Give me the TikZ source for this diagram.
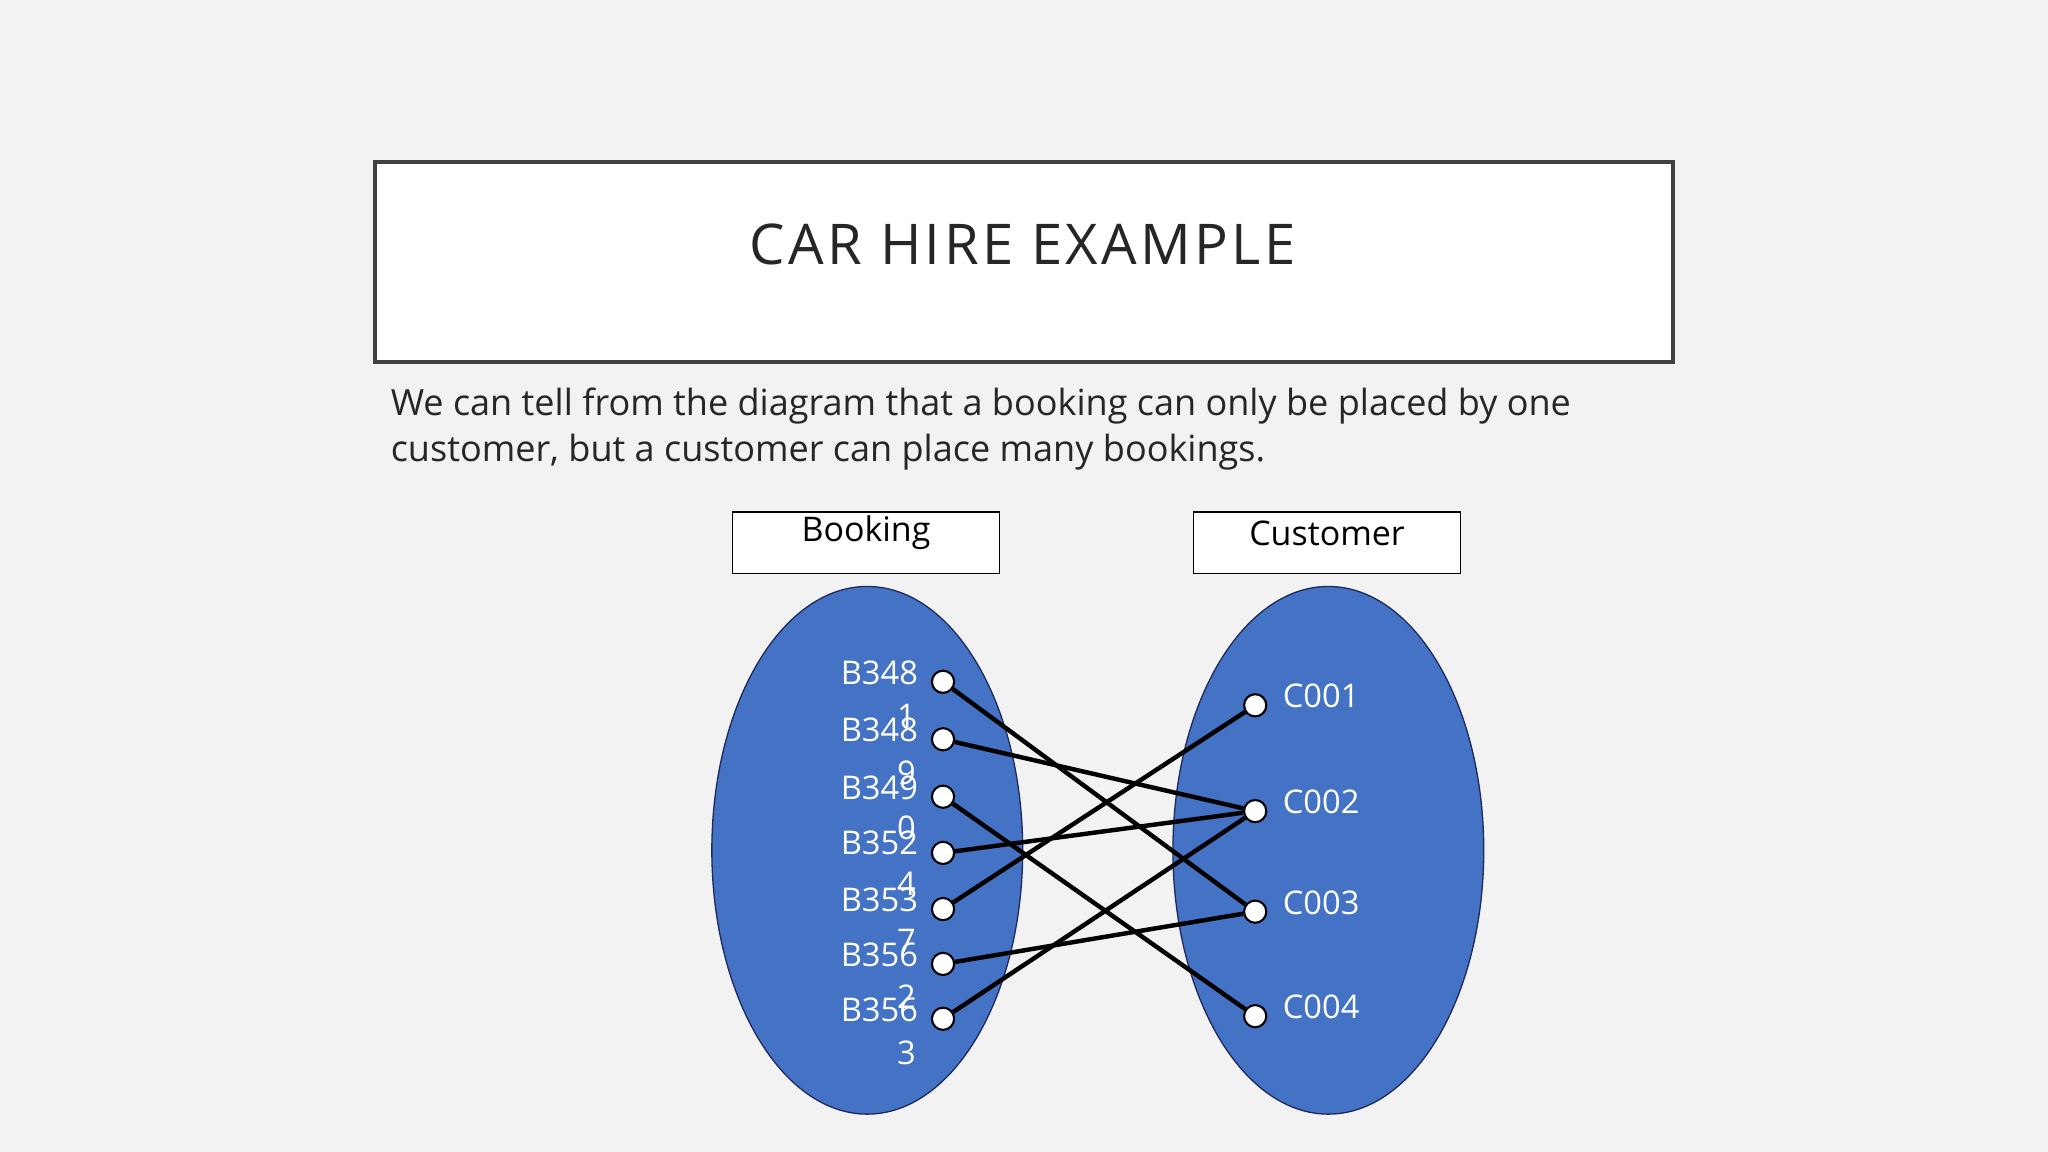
\documentclass[tikz,border=0pt]{standalone}
\usepackage{fontspec}
\setmainfont{Open Sans}
\newfontfamily\spaced[LetterSpace=6]{Open Sans}
\begin{document}
\begin{tikzpicture}[x=1pt,y=-1pt,
  dot/.style={circle,draw=black,fill=white,line width=1.6pt,minimum size=17pt,inner sep=0pt},
  lab/.style={text=white,font=\fontsize{25}{28}\selectfont,inner sep=0pt},
  hdr/.style={draw=black,fill=white,line width=1pt,minimum width=204pt,minimum height=47pt,inner sep=0pt},
  link/.style={line width=3.4pt,black}]
\definecolor{ellfill}{HTML}{4472C4}
\definecolor{ellline}{HTML}{1F2A5C}
\fill[black!5] (0,0) rectangle (1568,882);
\useasboundingbox (0,0) rectangle (1568,882);
\node[draw=black!75,line width=3pt,fill=white,minimum width=994pt,minimum height=153pt,inner sep=0pt] (title) at (784,200.5) {};
\node[font=\spaced\fontsize{43}{48}\selectfont,text=black!85] (tt) at (783,187) {CAR HIRE EXAMPLE};
\node[anchor=north west,align=left,font=\fontsize{27.6}{35}\selectfont,text=black!85,inner sep=0pt] (body) at (299,297) {We can tell from the diagram that a booking can only be placed by one\\customer, but a customer can place many bookings.};
\node[hdr] (hb) at (663,415.5) {};
\node[font=\fontsize{26}{30}\selectfont] (hbt) at (663,408) {Booking};
\node[hdr] (hc) at (1016,415.5) {};
\node[font=\fontsize{26}{30}\selectfont] (hct) at (1016,408) {Customer};
\filldraw[draw=ellline,fill=ellfill,line width=1pt] (664,651) ellipse [x radius=119,y radius=202];
\filldraw[draw=ellline,fill=ellfill,line width=1pt] (1017,651) ellipse [x radius=119,y radius=202];
\foreach \n/\y in {a/522,b/566,c/610,d/653,e/696,f/738,g/780} {\node[dot] (\n) at (722,\y) {};}
\foreach \n/\y in {p/540,q/621,r/698,s/778} {\node[dot] (\n) at (961,\y) {};}
\foreach \m/\t/\d/\y/\yy in {la/B348/1/515/548,lb/B348/9/559/592,lc/B349/0/603/634,ld/B352/4/645/677,le/B353/7/689/720,lf/B356/2/731/763,lg/B356/3/773/806}
 {\node[lab,anchor=east] (\m) at (703,\y) {\t};
  \node[lab] (\m d) at (694,\yy) {\d};}
\foreach \m/\t/\y in {lp/C001/533,lq/C002/614,lr/C003/691,ls/C004/771}
 {\node[lab,anchor=west] (\m) at (982,\y) {\t};}
\draw[link] (a) -- (r);
\draw[link] (b) -- (q);
\draw[link] (c) -- (s);
\draw[link] (d) -- (q);
\draw[link] (e) -- (p);
\draw[link] (f) -- (r);
\draw[link] (g) -- (q);
\end{tikzpicture}
\end{document}
